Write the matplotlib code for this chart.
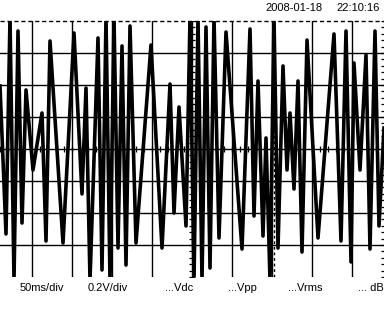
import numpy as np
import matplotlib
matplotlib.use("Agg")
import matplotlib.pyplot as plt

plt.rcParams['font.family'] = ['Liberation Sans', 'DejaVu Sans']

# Trace: turning points of the waveform (time in ms, volts)
time_ms = [-240, -232.5, -227.5, -222.5, -217.5, -212.5, -207.5, -198.75, -187.5, -182.5,
           -177.5, -161.25, -147.5, -137.5, -132.5, -127.5, -117.5, -112.5, -107.5, -102.5,
           -97.5, -92.5, -87.5, -82.5, -77.5, -70, -51.25, -37.5, -27.5, -22.5,
           -16.25, -7.5, -2.5, 2.5, 7.5, 12.5, 17.5, 22.5, 27.5, 33.75,
           42.5, 62.5, 72.5, 77.5, 82.5, 88.75, 92.5, 97.5, 102.5, 107.5,
           113.75, 118.75, 122.5, 127.5, 132.5, 137.5, 143.75, 157.5, 177.5, 186.25,
           192.5, 198.75, 202.5, 210, 217.5, 222.5, 228.75, 233.75, 240]
volts = [0.394, -0.531, 0.82, -0.82, 0.7375, -0.4625, 0.369, -0.131, 0.225, -0.575,
         0.675, -0.5875, 0.725, -0.281, 0.381, -0.82, 0.694, -0.756, 0.82, -0.82,
         0.82, -0.619, 0.644, -0.725, 0.769, -0.5875, 0.65, -0.619, 0.406, -0.4,
         0.2625, -0.481, 0.82, -0.82, 0.82, -0.82, 0.7625, -0.744, 0.82, -0.556,
         0.731, -0.625, 0.75, -0.419, 0.425, -0.544, 0.069, -0.82, 0.82, -0.619,
         0.519, -0.131, 0.225, -0.25, 0.425, -0.644, 0.681, -0.556, 0.719, -0.575,
         0.7375, -0.706, 0.5375, -0.131, 0.5875, -0.625, 0.7375, -0.481, 0.131]

date_text = "2008-01-18"
time_text = "22:10:16"
bottom_labels = ["50ms/div", "0.2V/div", "...Vdc", "...Vpp", "...Vrms", "... dB"]
bottom_x = [20, 88, 165, 228, 288, 358]

W, H = 384, 321
fig = plt.figure(figsize=(W / 100, H / 100), dpi=100)
ax = fig.add_axes([0, (H - 277) / H, 1, 256 / H])
ax.set_xlim(-240, 240)
ax.set_ylim(-0.8, 0.8)
ax.axis('off')

# graticule
for t in np.arange(-200, 201, 50):
    ax.axvline(t, color='black', lw=1.0)
for v in np.arange(-0.6, 0.61, 0.2):
    ax.axhline(v, color='black', lw=1.0)
ax.axhline(0.8, color='black', lw=1.0, ls=(0, (3, 2)), clip_on=False)

# minor ticks on the centre lines and right edge
tt = np.arange(-240, 241, 10)
ax.plot(tt, np.zeros_like(tt), ls='none', marker='|', ms=5, mew=0.9, color='black')
vv = np.arange(-0.8, 0.81, 0.04)
ax.plot(np.zeros_like(vv), vv, ls='none', marker='_', ms=5, mew=0.9, color='black')
ax.plot(np.full_like(vv, 240), vv, ls='none', marker='_', ms=5, mew=0.9, color='black')

# trigger cursor
ax.axvline(102.5, color='black', lw=1.0, ls=(0, (2, 2)))

ax.plot(time_ms, volts, color='black', lw=2.6, solid_joinstyle='round')

fig.text(265 / W, 1 - 8 / H, date_text, fontsize=8, va='center', ha='left')
fig.text(336 / W, 1 - 8 / H, time_text, fontsize=8, va='center', ha='left')
for lab, x in zip(bottom_labels, bottom_x):
    fig.text(x / W, 1 - 288 / H, lab, fontsize=8, va='center', ha='left')

fig.savefig("out.png", dpi=100, facecolor='white')
